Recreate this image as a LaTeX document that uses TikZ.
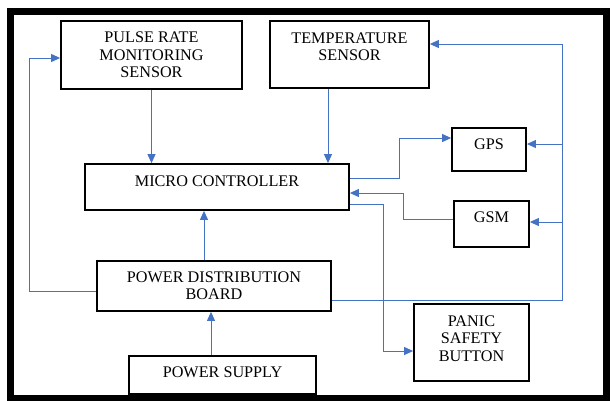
\documentclass[tikz,border=0pt]{standalone}
\usepackage{fontspec}
\setmainfont{Liberation Serif}
\usetikzlibrary{arrows.meta}
\definecolor{conncol}{RGB}{68,114,196}
\begin{document}
\begin{tikzpicture}[x={(1pt,0)},y={(0,-1pt)},
  blk/.style={draw=black,line width=1.8pt,fill=white,inner sep=0pt},
  txt/.style={align=center,inner sep=0pt,font=\fontsize{16.2}{17.3}\selectfont},
  conn/.style={draw=conncol,line width=1pt,-{Triangle[length=9pt,width=8pt]}}]
\useasboundingbox (0,0) rectangle (612,400);
\fill[white] (0,0) rectangle (612,400);
\draw[line width=7pt] (10.5,11) rectangle (606,398);
% blocks
\node[blk,minimum width=181pt,minimum height=68pt,
  label={[txt]center:{PULSE RATE\\MONITORING\\SENSOR}}] (pulse) at (151.5,55) {};
\node[blk,minimum width=159pt,minimum height=67pt,
  label={[txt,yshift=7.5pt]center:{TEMPERATURE\\SENSOR}}] (temp) at (349.5,54.5) {};
\node[blk,minimum width=264pt,minimum height=46pt,
  label={[txt,yshift=6pt]center:{MICRO CONTROLLER}}] (mc) at (217,187) {};
\node[blk,minimum width=74pt,minimum height=43pt,
  label={[txt,yshift=5.5pt]center:{GPS}}] (gps) at (489,149.5) {};
\node[blk,minimum width=75pt,minimum height=46pt,
  label={[txt,yshift=6.5pt]center:{GSM}}] (gsm) at (491.5,224) {};
\node[blk,minimum width=234pt,minimum height=50pt,
  label={[txt]center:{POWER DISTRIBUTION\\BOARD}}] (pdb) at (214,286) {};
\node[blk,minimum width=187pt,minimum height=38pt,
  label={[txt,yshift=2.5pt]center:{POWER SUPPLY}}] (ps) at (222.5,375) {};
\node[blk,minimum width=115pt,minimum height=77pt,
  label={[txt,yshift=4pt]center:{PANIC\\SAFETY\\BUTTON}}] (panic) at (471.5,342.5) {};
% helper coordinates
\coordinate (tx) at (328,0);
\coordinate (g1) at (399,178);
\coordinate (g2) at (452,138);
\coordinate (s1) at (403,219);
\coordinate (s2) at (403,193);
\coordinate (p1) at (383,204);
\coordinate (p2) at (383,351);
\coordinate (b0) at (562,300);
\coordinate (t2) at (562,44);
\coordinate (b1) at (562,144);
\coordinate (b2) at (562,222);
\coordinate (l0) at (29,291);
\coordinate (l1) at (29,58);
\coordinate (v1) at (204,0);
\coordinate (v2) at (211,0);
% connectors
\draw[conn] (pulse.south) -- (pulse.south |- mc.north);
\draw[conn] (temp.south -| tx) -- (mc.north -| tx);
\draw[conn] (mc.east |- g1) -- (g1) |- (gps.west |- g2);
\draw[conn] (gsm.west |- s1) -- (s1) |- (mc.east |- s2);
\draw[conn] (mc.east |- p1) -- (p1) |- (panic.west |- p2);
\draw[conn] (pdb.east |- b0) -- (b0) |- (temp.east |- t2);
\draw[conn] (b1) -- (gps.east |- b1);
\draw[conn] (b2) -- (gsm.east |- b2);
\draw[conn] (pdb.west |- l0) -- (l0) |- (pulse.west |- l1);
\draw[conn] (pdb.north -| v1) -- (mc.south -| v1);
\draw[conn] (ps.north -| v2) -- (pdb.south -| v2);
\end{tikzpicture}
\end{document}
